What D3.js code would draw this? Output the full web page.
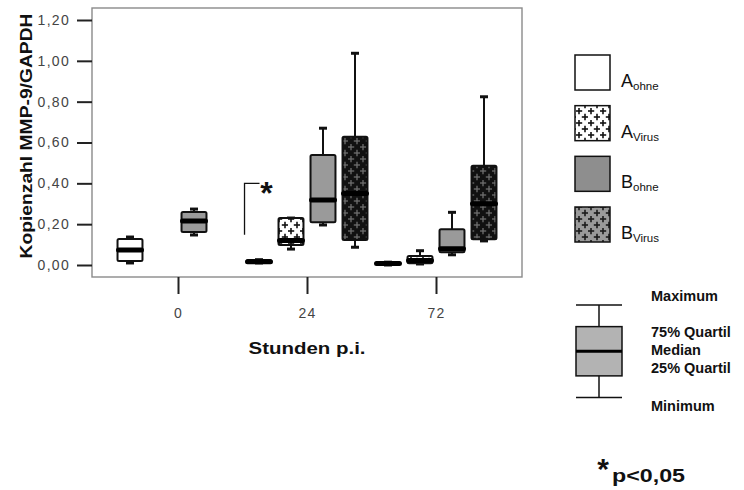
<!DOCTYPE html>
<html>
<head>
<meta charset="utf-8">
<script src="https://cdn.jsdelivr.net/npm/d3@7"></script>
<style>
  html, body { margin: 0; padding: 0; background: #fff; }
  svg { display: block; }
</style>
</head>
<body>
<svg id="chart" width="744" height="490"></svg>
<script>
// Time points (hours post infection) and the four sample groups
const timepoints = ["0", "24", "72"];
const groupKeys = ["Aohne", "AVirus", "Bohne", "BVirus"];

// Box statistics per time point: [minimum, Q1, median, Q3, maximum]
const statsAohne  = [[0.010, 0.020, 0.073, 0.127, 0.137], [0.010, 0.010, 0.016, 0.025, 0.026], [0.000, 0.002, 0.007, 0.012, 0.014]];
const statsAVirus = [null, [0.078, 0.098, 0.120, 0.230, 0.230], [0.005, 0.008, 0.022, 0.044, 0.070]];
const statsBohne  = [[0.147, 0.162, 0.216, 0.260, 0.274], [0.196, 0.209, 0.318, 0.539, 0.670], [0.050, 0.062, 0.080, 0.175, 0.258]];
const statsBVirus = [null, [0.087, 0.122, 0.350, 0.628, 1.037], [0.118, 0.126, 0.300, 0.486, 0.824]];

const yTicks = [0, 0.2, 0.4, 0.6, 0.8, 1.0, 1.2];

// Legend entries: main letter + subscript
const legendMain = ["A", "A", "B", "B"];
const legendSub = ["ohne", "Virus", "ohne", "Virus"];
const boxLegendLabels = ["Maximum", "75% Quartil", "Median", "25% Quartil", "Minimum"];

const statsByGroup = { Aohne: statsAohne, AVirus: statsAVirus, Bohne: statsBohne, BVirus: statsBVirus };

const svg = d3.select("#chart");
const defs = svg.append("defs");

// Cross-hatch pattern: staggered plus signs
function plusPattern(id, bg, fg, w) {
  const p = defs.append("pattern")
    .attr("id", id).attr("patternUnits", "userSpaceOnUse")
    .attr("width", 12).attr("height", 12);
  p.append("rect").attr("width", 12).attr("height", 12).attr("fill", bg);
  const g = p.append("g").attr("stroke", fg).attr("stroke-width", w);
  [[3, 3], [9, 9]].forEach(([cx, cy]) => {
    g.append("line").attr("x1", cx - 3.2).attr("x2", cx + 3.2).attr("y1", cy).attr("y2", cy);
    g.append("line").attr("x1", cx).attr("x2", cx).attr("y1", cy - 3.2).attr("y2", cy + 3.2);
  });
  g.append("line").attr("x1", 9).attr("x2", 9).attr("y1", -3).attr("y2", 0.2);
  return "url(#" + id + ")";
}

const fills = {
  Aohne: "#ffffff",
  AVirus: plusPattern("patAV", "#ffffff", "#111", 1.6),
  Bohne: "#9a9a9a",
  BVirus: plusPattern("patBV", "#111111", "#6e6e6e", 1.3)
};
const legendFills = {
  Aohne: "#ffffff",
  AVirus: fills.AVirus,
  Bohne: "#8e8e8e",
  BVirus: plusPattern("patBVl", "#9a9a9a", "#1a1a1a", 1.6)
};

// Scales
const y = d3.scaleLinear().domain([0, 1.2]).range([265, 20]);
const x = d3.scalePoint().domain(timepoints).range([178, 436]);
const xs = d3.scaleBand().domain(groupKeys).range([-64, 64]).paddingInner(0.22).paddingOuter(0.11);

// Plot frame
const frame = { x0: 92, x1: 522, y0: 8, y1: 277 };
svg.append("rect")
  .attr("x", frame.x0).attr("y", frame.y0)
  .attr("width", frame.x1 - frame.x0).attr("height", frame.y1 - frame.y0)
  .attr("fill", "none").attr("stroke", "#8a8a8a").attr("stroke-width", 1.4);

// Y axis
const fmt = v => d3.format(".2f")(v).replace(".", ",");
const yAxis = d3.axisLeft(y).tickValues(yTicks).tickFormat(fmt).tickSize(15).tickPadding(7);
const gy = svg.append("g").attr("transform", `translate(${frame.x0},0)`).call(yAxis);
gy.select(".domain").remove();
gy.selectAll(".tick line").attr("stroke", "#222").attr("stroke-width", 2);
gy.selectAll(".tick text")
  .attr("fill", "#444").attr("font-family", "Liberation Sans, Arial, sans-serif")
  .attr("font-size", 14).attr("letter-spacing", 1.3);

// X axis
const xAxis = d3.axisBottom(x).tickSize(17).tickPadding(14);
const gx = svg.append("g").attr("transform", `translate(0,${frame.y1})`).call(xAxis);
gx.select(".domain").remove();
gx.selectAll(".tick line").attr("stroke", "#222").attr("stroke-width", 2);
gx.selectAll(".tick text")
  .attr("fill", "#444").attr("font-family", "Liberation Sans, Arial, sans-serif")
  .attr("font-size", 14).attr("letter-spacing", 1.2);

// Axis titles
svg.append("text")
  .attr("x", 307).attr("y", 354)
  .attr("text-anchor", "middle")
  .attr("font-family", "Liberation Sans, Arial, sans-serif")
  .attr("font-weight", "bold").attr("font-size", 16).attr("fill", "#111")
  .attr("textLength", 117).attr("lengthAdjust", "spacingAndGlyphs")
  .text("Stunden p.i.");

svg.append("text")
  .attr("transform", "translate(32,136) rotate(-90)")
  .attr("text-anchor", "middle")
  .attr("font-family", "Liberation Sans, Arial, sans-serif")
  .attr("font-weight", "bold").attr("font-size", 16).attr("fill", "#111")
  .attr("textLength", 245).attr("lengthAdjust", "spacingAndGlyphs")
  .text("Kopienzahl MMP-9/GAPDH");

// Boxes
const boxes = [];
groupKeys.forEach(k => {
  statsByGroup[k].forEach((s, i) => {
    if (s) boxes.push({ key: k, time: timepoints[i], s });
  });
});

const bw = xs.bandwidth();
const gBoxes = svg.append("g");
boxes.forEach(b => {
  const cx = x(b.time) + xs(b.key) + bw / 2;
  const [mn, q1, md, q3, mx] = b.s;
  const g = gBoxes.append("g");
  // whiskers
  g.append("line").attr("x1", cx).attr("x2", cx).attr("y1", y(mx)).attr("y2", y(q3))
    .attr("stroke", "#111").attr("stroke-width", 2);
  g.append("line").attr("x1", cx).attr("x2", cx).attr("y1", y(q1)).attr("y2", y(mn))
    .attr("stroke", "#111").attr("stroke-width", 2);
  [mx, mn].forEach(v => {
    g.append("line").attr("x1", cx - 4).attr("x2", cx + 4).attr("y1", y(v)).attr("y2", y(v))
      .attr("stroke", "#111").attr("stroke-width", 3);
  });
  // box
  g.append("rect")
    .attr("x", cx - bw / 2).attr("width", bw)
    .attr("y", y(q3)).attr("height", Math.max(0.5, y(q1) - y(q3)))
    .attr("rx", 1.5)
    .attr("fill", fills[b.key]).attr("stroke", "#111").attr("stroke-width", 2);
  // median
  g.append("line")
    .attr("x1", cx - bw / 2 + 1).attr("x2", cx + bw / 2 - 1)
    .attr("y1", y(md)).attr("y2", y(md))
    .attr("stroke", "#000").attr("stroke-width", 5).attr("stroke-linecap", "round");
});

// Significance bracket at 24 h
const bx = x("24") + xs("Aohne") - 2;
const bTop = y(0.40), bBot = y(0.148);
svg.append("path")
  .attr("d", `M${bx},${bBot}V${bTop}H${bx + 15}`)
  .attr("fill", "none").attr("stroke", "#111").attr("stroke-width", 1.3);
svg.append("text")
  .attr("x", bx + 22).attr("y", bTop + 21)
  .attr("text-anchor", "middle")
  .attr("font-family", "Liberation Sans, Arial, sans-serif")
  .attr("font-weight", "bold").attr("font-size", 32).attr("fill", "#111")
  .text("*");

// Group legend
const legY = d3.scalePoint().domain(groupKeys).range([55, 207]);
const leg = svg.append("g");
groupKeys.forEach((k, i) => {
  const top = legY(k);
  leg.append("rect")
    .attr("x", 575).attr("y", top).attr("width", 35).attr("height", 35)
    .attr("fill", legendFills[k]).attr("stroke", "#111").attr("stroke-width", 1.5);
  const t = leg.append("text")
    .attr("x", 621).attr("y", top + 32)
    .attr("font-family", "Liberation Sans, Arial, sans-serif")
    .attr("font-size", 18).attr("fill", "#111");
  t.append("tspan").text(legendMain[i]);
  t.append("tspan").attr("font-size", 11.5).attr("dy", 3).text(legendSub[i]);
});

// Box-plot explanation legend
const demo = [0, 1, 2, 3, 4];
const dy = d3.scaleLinear().domain([0, 4]).range([397.5, 305]);
const dx0 = 576, dx1 = 622, dcx = (dx0 + dx1) / 2;
const dl = svg.append("g");
dl.append("line").attr("x1", dcx).attr("x2", dcx).attr("y1", dy(demo[4])).attr("y2", dy(demo[0]))
  .attr("stroke", "#111").attr("stroke-width", 1.5);
[demo[0], demo[4]].forEach(v => {
  dl.append("line").attr("x1", dx0).attr("x2", dx1).attr("y1", dy(v)).attr("y2", dy(v))
    .attr("stroke", "#111").attr("stroke-width", 1.5);
});
dl.append("rect").attr("x", dx0).attr("y", dy(demo[3]) - 1.5)
  .attr("width", dx1 - dx0).attr("height", dy(demo[1]) - dy(demo[3]) + 3)
  .attr("fill", "#b3b3b3").attr("stroke", "#111").attr("stroke-width", 1.5);
dl.append("line").attr("x1", dx0).attr("x2", dx1).attr("y1", dy(demo[2])).attr("y2", dy(demo[2]))
  .attr("stroke", "#000").attr("stroke-width", 3);

const labelY = [301, 337, 355, 373, 411];
boxLegendLabels.forEach((s, i) => {
  dl.append("text")
    .attr("x", 651).attr("y", labelY[i])
    .attr("font-family", "Liberation Sans, Arial, sans-serif")
    .attr("font-weight", "bold").attr("font-size", 14.5).attr("fill", "#111")
    .text(s);
});

// Significance note
svg.append("text")
  .attr("x", 603).attr("y", 479)
  .attr("text-anchor", "middle")
  .attr("font-family", "Liberation Sans, Arial, sans-serif")
  .attr("font-weight", "bold").attr("font-size", 30).attr("fill", "#111")
  .text("*");
svg.append("text")
  .attr("x", 612).attr("y", 482)
  .attr("font-family", "Liberation Sans, Arial, sans-serif")
  .attr("font-weight", "bold").attr("font-size", 18).attr("fill", "#111")
  .attr("textLength", 73).attr("lengthAdjust", "spacingAndGlyphs")
  .text("p<0,05");
</script>
</body>
</html>
